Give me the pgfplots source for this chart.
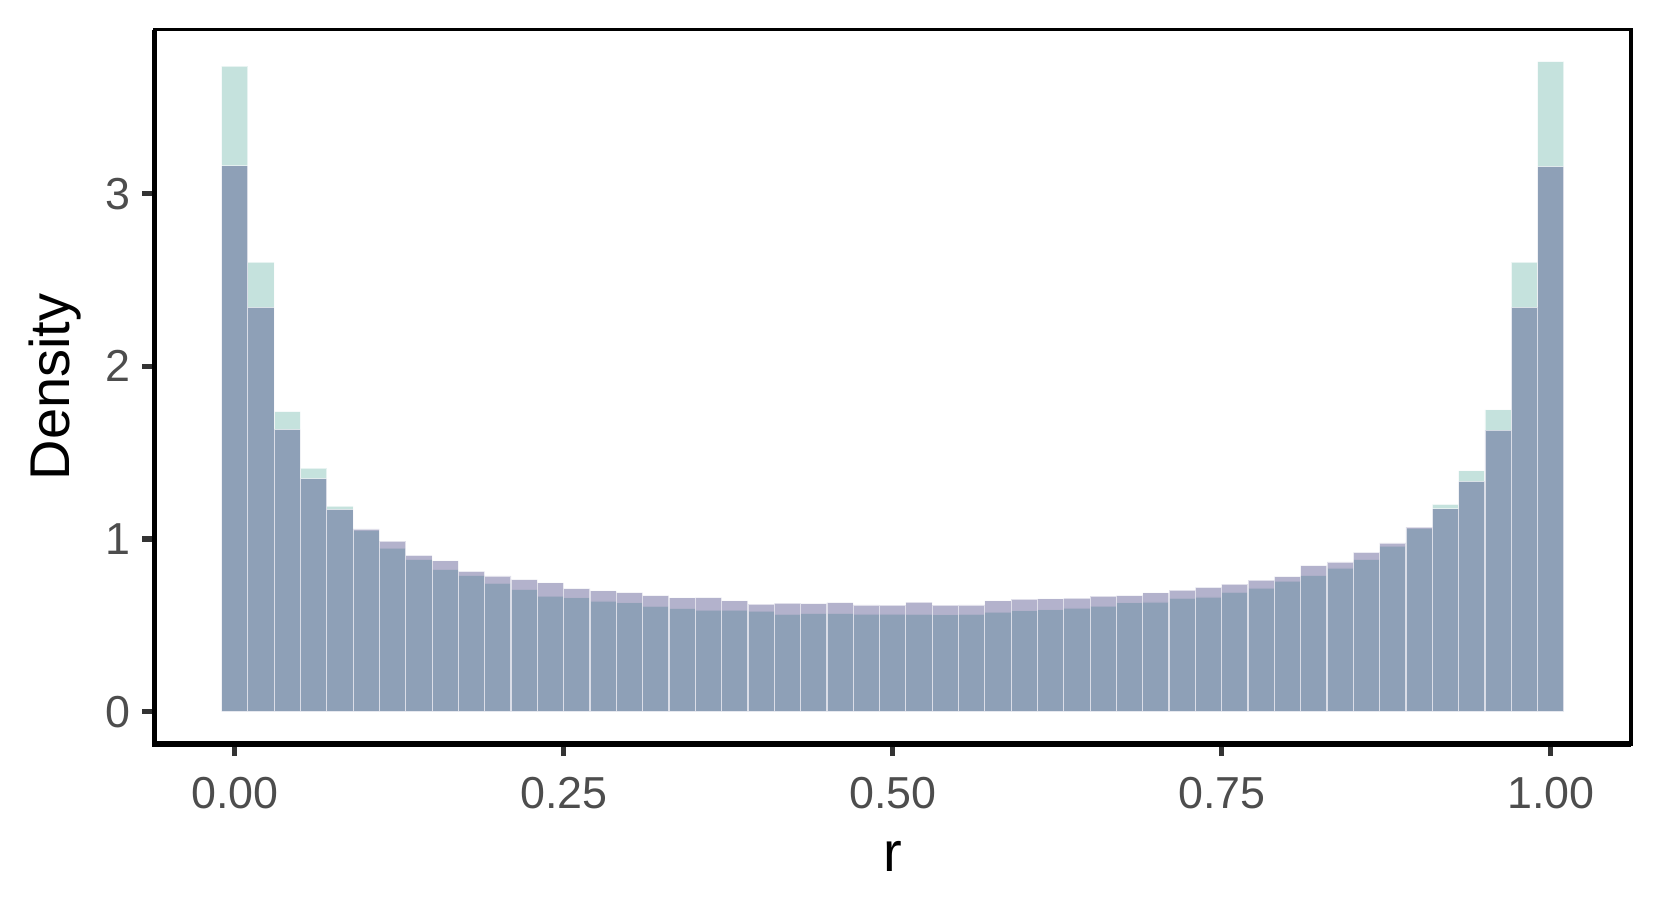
\documentclass[border=0pt]{standalone}
\usepackage{pgfplots}
\usepackage{pgfplotstable}
\pgfplotsset{compat=1.18}
\usepackage{fontspec}
\setmainfont{Liberation Sans}
\definecolor{tealc}{RGB}{102,179,166}
\definecolor{purc}{RGB}{55,53,121}
\definecolor{tickgray}{RGB}{77,77,77}
\definecolor{tickc}{RGB}{51,51,51}

\pgfplotstableread{
x teal purple
0.00 3.738 3.161
0.02 2.603 2.341
0.04 1.738 1.635
0.06 1.410 1.349
0.08 1.190 1.172
0.10 1.050 1.058
0.12 0.947 0.987
0.14 0.881 0.905
0.16 0.823 0.873
0.18 0.788 0.812
0.20 0.743 0.786
0.22 0.706 0.765
0.24 0.669 0.746
0.26 0.659 0.712
0.28 0.641 0.700
0.30 0.630 0.689
0.32 0.609 0.672
0.34 0.597 0.659
0.36 0.588 0.661
0.38 0.588 0.642
0.40 0.582 0.622
0.42 0.563 0.628
0.44 0.568 0.626
0.46 0.568 0.632
0.48 0.565 0.618
0.50 0.565 0.617
0.52 0.563 0.634
0.54 0.561 0.617
0.56 0.563 0.618
0.58 0.576 0.642
0.60 0.584 0.651
0.62 0.590 0.653
0.64 0.600 0.658
0.66 0.611 0.669
0.68 0.630 0.672
0.70 0.635 0.688
0.72 0.656 0.704
0.74 0.664 0.720
0.76 0.690 0.738
0.78 0.716 0.761
0.80 0.756 0.782
0.82 0.787 0.846
0.84 0.832 0.867
0.86 0.880 0.922
0.88 0.958 0.977
0.90 1.062 1.068
0.92 1.200 1.175
0.94 1.395 1.333
0.96 1.748 1.630
0.98 2.603 2.341
1.00 3.765 3.157
}\datatable

\begin{document}
\begin{tikzpicture}
\useasboundingbox (-38.6pt,-44.75pt) rectangle (376.6pt,186.0pt);
\begin{axis}[
  at={(0,0)}, anchor=south west,
  scale only axis, width=369.1pt, height=178.6pt,
  xmin=-0.061, xmax=1.061, ymin=-0.188, ymax=3.95,
  axis line style={line width=0.85pt, black},
  xtick={0,0.25,0.5,0.75,1},
  xticklabels={0.00,0.25,0.50,0.75,1.00},
  ytick={0,1,2,3},
  yticklabels={0,1,2,3},
  xtick pos=bottom, ytick pos=left,
  tick align=outside,
  major tick length=3pt,
  tick style={line width=1.3pt, color=tickc},
  ticklabel style={font=\fontsize{11.2}{13}\selectfont, text=tickgray, inner sep=0pt},
  xticklabel style={anchor=north, yshift=-5.2pt},
  yticklabel style={anchor=east, xshift=-2.9pt},
  /pgf/number format/assume math mode=true,
  xlabel={r}, ylabel={Density},
  label style={font=\fontsize{14}{16}\selectfont, text=black},
  xlabel style={at={(axis description cs:0.5,-0.157)}, anchor=center},
  ylabel style={at={(axis description cs:-0.0675,0.5)}, anchor=center},
  ybar, bar width=0.02,
  clip=false,
]
\addplot[bar shift=0pt, fill=tealc, fill opacity=0.38, draw=white, draw opacity=0.6, line width=0.3pt]
  table[x=x, y=teal] {\datatable};
\addplot[bar shift=0pt, fill=purc, fill opacity=0.38, draw=white, draw opacity=0.6, line width=0.3pt]
  table[x=x, y=purple] {\datatable};
\draw[line width=1.3pt, black] (rel axis cs:0,1) -- (rel axis cs:0,0) -- (rel axis cs:1,0);
\end{axis}
\end{tikzpicture}
\end{document}
